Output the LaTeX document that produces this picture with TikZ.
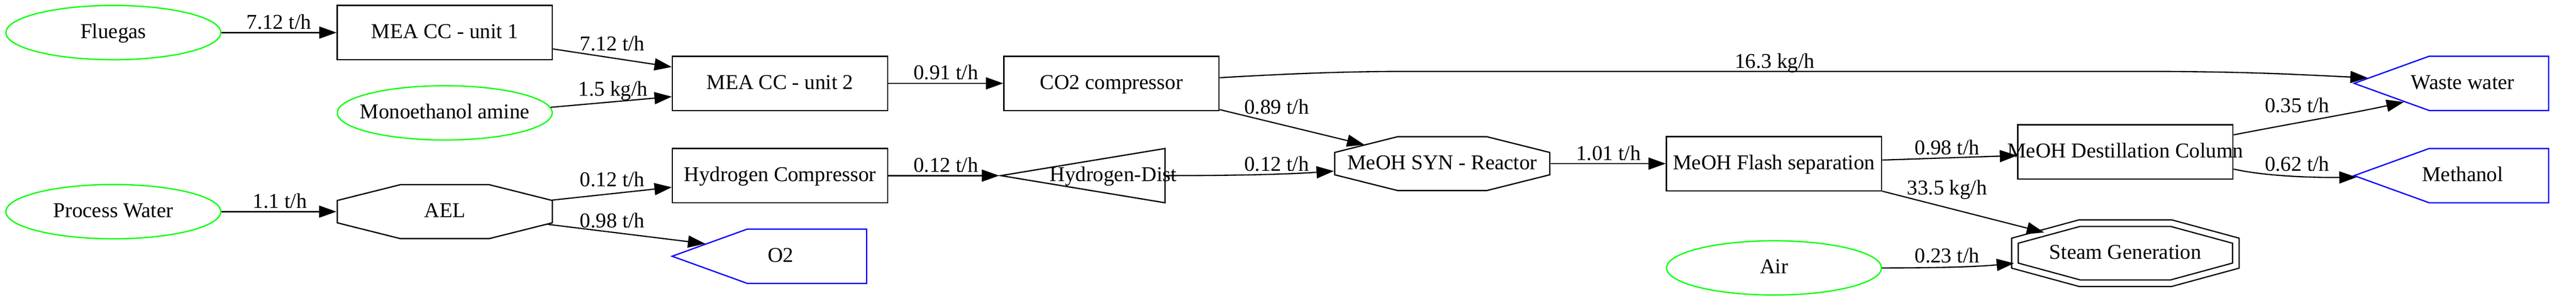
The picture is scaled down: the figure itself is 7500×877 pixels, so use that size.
\documentclass[tikz,border=0pt]{standalone}
\usepackage{fontspec}
\setmainfont{Liberation Serif}
\usepackage{tikz}
\usetikzlibrary{arrows.meta}
\usetikzlibrary{shapes.geometric}
\usetikzlibrary{shapes.symbols}

\definecolor{feedgreen}{RGB}{0,255,0}
\definecolor{outblue}{RGB}{0,0,255}

\tikzset{
  every node/.style={font=\fontsize{14pt}{16pt}\selectfont},
  feed/.style={ellipse, draw=feedgreen, line width=0.85pt, minimum width=142.3pt, minimum height=36pt, inner xsep=-6pt, text height=0.76em, text depth=0pt},
  unit/.style={rectangle, draw, line width=0.85pt, minimum width=142.5pt, minimum height=36pt, inner xsep=-10pt, text height=0.76em, text depth=0pt},
  octa/.style={regular polygon, regular polygon sides=8, draw, line width=0.85pt, minimum size=2cm, inner sep=0pt, outer sep=0.2pt, xscale=2.710, yscale=0.6797, transform shape},
  doubleocta/.style={octa, double, double distance=3.5pt, xscale=1.0273, yscale=1.1148},
  outlet/.style={signal, signal to=west, signal from=nowhere, signal pointer angle=39.8, draw=outblue, line width=0.85pt, minimum width=128.8pt, minimum height=36pt, inner sep=0pt, anchor=east},
  splitter/.style={isosceles triangle, isosceles triangle stretches, shape border rotate=180, draw, line width=0.85pt, minimum width=36pt, minimum height=108.8pt, inner sep=0pt, anchor=apex},
  nametext/.style={anchor=center, inner sep=0pt, text height=0.76em, text depth=0pt},
  rate/.style={anchor=base, inner sep=0pt},
  flow/.style={-{Triangle[length=11.5pt,width=8pt]}, line width=0.8pt},
}

\begin{document}
\begin{tikzpicture}[x=0.008cm, y=-0.008cm]
  \useasboundingbox (0,0) rectangle (7500,877);

  % feeds
  \node[feed] (fluegas) at (330,95) {Fluegas};
  \node[feed] (mea) at (1295,329) {Monoethanol amine};
  \node[feed] (water) at (330,617) {Process Water};
  \node[feed] (air) at (5165,781) {Air};

  % process units
  \node[unit] (cc1) at (1295,95) {MEA CC - unit 1};
  \node[unit] (cc2) at (2271,243) {MEA CC - unit 2};
  \node[unit] (co2) at (3236,243) {CO2 compressor};
  \node[unit] (h2comp) at (2271,512) {Hydrogen Compressor};
  \node[octa, label={[nametext]center:AEL}] (ael) at (1295,617) {};
  \node[splitter, label={[nametext, xshift=-34.8pt]east:Hydrogen-Dist}] (h2dist) at (2909,512) {};
  \node[octa, label={[nametext]center:MeOH SYN - Reactor}] (reactor) at (4199,477) {};
  \node[unit] (flash) at (5165,477) {MeOH Flash separation};
  \node[unit] (column) at (6188,443) {MeOH Destillation Column};
  \node[doubleocta, label={[nametext]center:Steam Generation}] (steam) at (6188,738) {};

  % products
  \node[outlet, label={[nametext, xshift=-57.3pt]east:O2}] (o2) at (2525,747) {};
  \node[outlet, label={[nametext, xshift=-57.3pt]east:Waste water}] (waste) at (7422,243) {};
  \node[outlet, label={[nametext, xshift=-57.3pt]east:Methanol}] (methanol) at (7422,512) {};

  % streams
  \draw[flow] (fluegas) -- (cc1);
  \draw[flow] (cc1) -- (cc2);
  \draw[flow] (mea.3) -- (cc2.187);
  \draw[flow] (cc2) -- (co2);
  \draw[flow] (co2.3) .. controls (3800,212) and (3950,208) .. (4121,208) -- (6214,208) .. controls (6550,208) and (6700,218) .. (waste);
  \draw[flow] (co2) -- (reactor);
  \draw[flow] (water) -- (ael);
  \draw[flow] (ael) -- (h2comp);
  \draw[flow] (ael) -- (o2);
  \draw[flow] (h2comp) -- (h2dist.apex);
  \draw[flow] (h2dist.east) .. controls (3600,512) and (3750,508) .. (reactor);
  \draw[flow] (reactor) -- (flash);
  \draw[flow] (flash) -- (column);
  \draw[flow] (flash) -- (steam);
  \draw[flow] (air) .. controls (5650,781) and (5750,778) .. (steam);
  \draw[flow] (column.9.6) .. controls (6700,355) and (6850,330) .. (waste);
  \draw[flow] (column.-9.6) .. controls (6600,515) and (6750,518) .. (methanol);

  % stream rates
  \node[rate] (r-fluegas) at (812,85) {7.12 t/h};
  \node[rate] (r-cc1) at (1783,147) {7.12 t/h};
  \node[rate] (r-mea) at (1785,280) {1.5 kg/h};
  \node[rate] (r-cc2) at (2754,232) {0.91 t/h};
  \node[rate] (r-co2w) at (5167,199) {16.3 kg/h};
  \node[rate] (r-co2r) at (3717,332) {0.89 t/h};
  \node[rate] (r-water) at (815,606) {1.1 t/h};
  \node[rate] (r-aelh) at (1783,544) {0.12 t/h};
  \node[rate] (r-aelo) at (1783,663) {0.98 t/h};
  \node[rate] (r-h2c) at (2754,501) {0.12 t/h};
  \node[rate] (r-h2d) at (3717,498) {0.12 t/h};
  \node[rate] (r-reac) at (4683,467) {1.01 t/h};
  \node[rate] (r-flc) at (5669,450) {0.98 t/h};
  \node[rate] (r-fls) at (5669,567) {33.5 kg/h};
  \node[rate] (r-air) at (5669,766) {0.23 t/h};
  \node[rate] (r-colw) at (6688,327) {0.35 t/h};
  \node[rate] (r-colm) at (6688,498) {0.62 t/h};
\end{tikzpicture}
\end{document}
